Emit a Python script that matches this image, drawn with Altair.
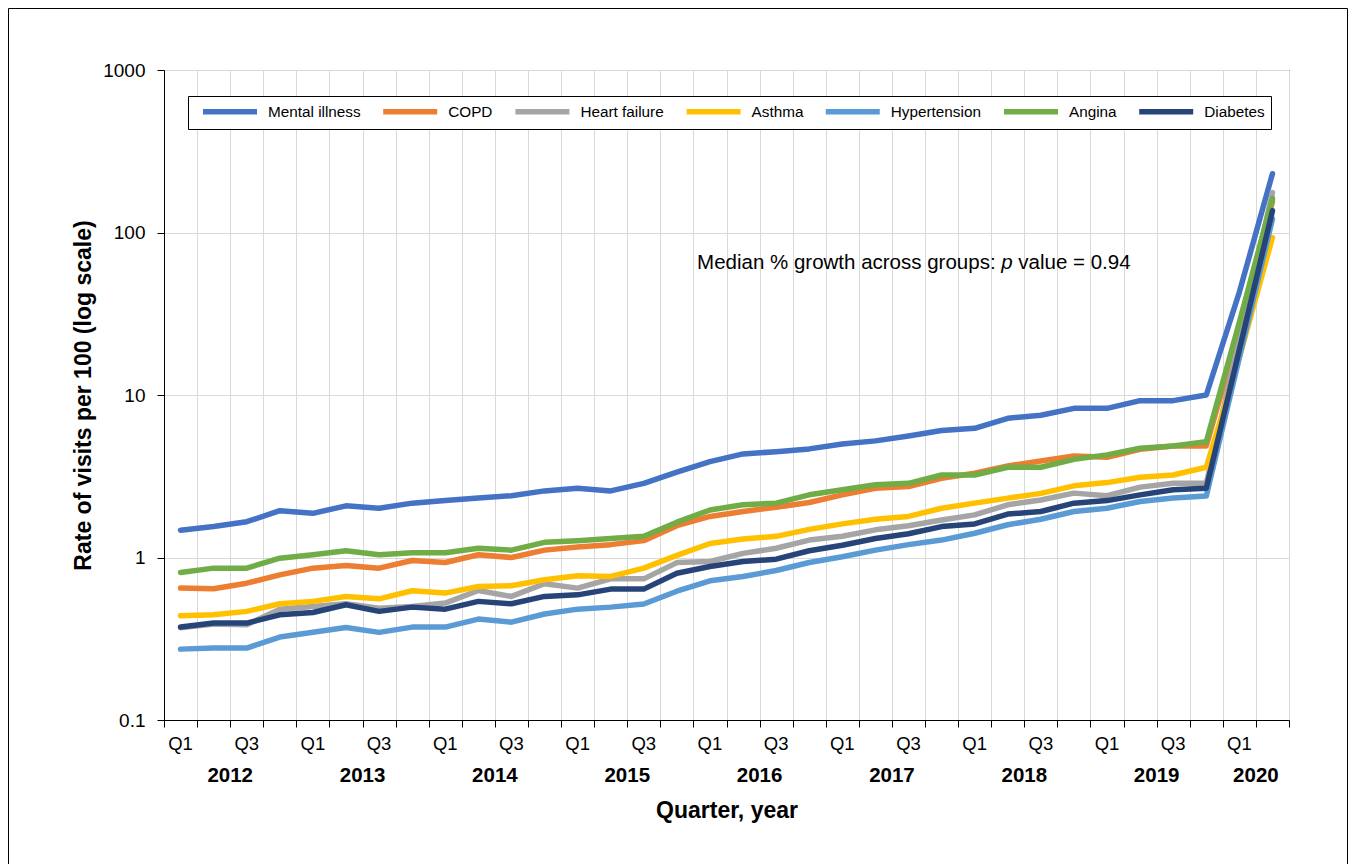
import altair as alt
import pandas as pd

# ---------------- data ----------------
series_names = ["Mental illness", "COPD", "Heart failure", "Asthma",
                "Hypertension", "Angina", "Diabetes"]
series_colors = ["#4472C4", "#ED7D31", "#A5A5A5", "#FFC000",
                 "#5B9BD5", "#70AD47", "#264478"]

quarter_labels = ["Q1", "Q2", "Q3", "Q4"] * 8 + ["Q1", "Q2"]
year_labels = ["2012", "2013", "2014", "2015", "2016", "2017", "2018", "2019", "2020"]
year_first_index = [0, 4, 8, 12, 16, 20, 24, 28, 32]
year_n_quarters = [4, 4, 4, 4, 4, 4, 4, 4, 2]

mental_illness = [1.47, 1.55, 1.66, 1.94, 1.87, 2.08, 2.01, 2.16, 2.24, 2.32, 2.40, 2.57,
                  2.67, 2.57, 2.86, 3.35, 3.89, 4.34, 4.48, 4.66, 5.00, 5.22, 5.60, 6.04,
                  6.24, 7.19, 7.50, 8.28, 8.28, 9.23, 9.23, 10.0, 43, 230]
copd = [0.648, 0.642, 0.695, 0.782, 0.860, 0.893, 0.860, 0.958, 0.932, 1.04, 1.00, 1.11,
        1.16, 1.20, 1.27, 1.57, 1.79, 1.92, 2.04, 2.18, 2.43, 2.67, 2.73, 3.07,
        3.30, 3.66, 3.93, 4.22, 4.14, 4.63, 4.86, 4.86, 25, 155]
heart_failure = [0.37, 0.39, 0.385, 0.481, 0.50, 0.52, 0.488, 0.50, 0.524, 0.627, 0.576, 0.689,
                 0.648, 0.739, 0.739, 0.93, 0.945, 1.06, 1.14, 1.28, 1.35, 1.48, 1.57, 1.70,
                 1.83, 2.11, 2.26, 2.49, 2.40, 2.71, 2.86, 2.86, 22, 176]
asthma = [0.438, 0.444, 0.466, 0.519, 0.537, 0.576, 0.557, 0.624, 0.604, 0.663, 0.670, 0.729,
          0.771, 0.765, 0.860, 1.03, 1.22, 1.30, 1.35, 1.49, 1.61, 1.72, 1.79, 2.01,
          2.16, 2.32, 2.48, 2.76, 2.89, 3.12, 3.22, 3.59, 17, 93]
hypertension = [0.273, 0.277, 0.277, 0.324, 0.347, 0.371, 0.346, 0.373, 0.373, 0.418, 0.400, 0.449,
                0.481, 0.495, 0.517, 0.62, 0.719, 0.764, 0.832, 0.932, 1.01, 1.11, 1.20, 1.28,
                1.41, 1.59, 1.72, 1.92, 2.01, 2.21, 2.32, 2.39, 17, 121]
angina = [0.809, 0.860, 0.860, 0.99, 1.04, 1.10, 1.04, 1.07, 1.07, 1.14, 1.11, 1.24,
          1.27, 1.31, 1.35, 1.65, 1.96, 2.11, 2.16, 2.43, 2.61, 2.80, 2.86, 3.22,
          3.22, 3.59, 3.59, 4.02, 4.28, 4.70, 4.86, 5.16, 28, 162]
diabetes = [0.373, 0.395, 0.395, 0.444, 0.459, 0.512, 0.466, 0.495, 0.481, 0.537, 0.519, 0.576,
            0.589, 0.639, 0.639, 0.80, 0.88, 0.945, 0.977, 1.10, 1.19, 1.31, 1.40, 1.55,
            1.61, 1.85, 1.92, 2.16, 2.24, 2.43, 2.61, 2.67, 19, 136]

series_values = [mental_illness, copd, heart_failure, asthma, hypertension, angina, diabetes]

annotation_parts = ["Median % growth across groups:", "p", "value = 0.94"]
annotation_idx = 15.61
annotation_value = 65

# ---------------- tables ----------------
rows = []
for name, vals in zip(series_names, series_values):
    for i, v in enumerate(vals):
        rows.append({"idx": i, "value": v, "series": name})
df = pd.DataFrame(rows)

qdf = pd.DataFrame({"idx": list(range(len(quarter_labels))), "label": quarter_labels})
qdf = qdf[qdf["idx"] % 2 == 0]

ydf = pd.DataFrame({
    "idx": [f + (n - 1) / 2 for f, n in zip(year_first_index, year_n_quarters)],
    "label": year_labels,
})

adf = pd.DataFrame({"idx": [annotation_idx], "value": [annotation_value]})

W, H = 1125, 650
FONT = "Liberation Sans"
n_cat = len(quarter_labels)

x_enc = alt.X(
    "idx:Q",
    scale=alt.Scale(domain=[-0.5, n_cat - 0.5], nice=False, zero=False),
    axis=alt.Axis(
        values=[i - 0.5 for i in range(n_cat + 1)],
        labels=False, ticks=True, tickSize=7, grid=True,
        title="Quarter, year", titleFontSize=23, titleFontWeight="bold",
        titlePadding=72,
    ),
)
y_enc = alt.Y(
    "value:Q",
    scale=alt.Scale(type="log", domain=[0.1, 1000], nice=False),
    axis=alt.Axis(
        values=[0.1, 1, 10, 100, 1000], format="~g",
        labelFontSize=19, labelPadding=12, tickSize=7, grid=True,
        title="Rate of visits per 100 (log scale)", titleFontSize=23,
        titleFontWeight="bold", titlePadding=7,
    ),
)

# legend symbol: a 54px-long line whose layout box is only 13.5px
SYM = 13.5
lines = alt.Chart(df).mark_line(strokeWidth=5.5, strokeCap="round", strokeJoin="round").encode(
    x=x_enc,
    y=y_enc,
    color=alt.Color(
        "series:N",
        scale=alt.Scale(domain=series_names, range=series_colors),
        sort=series_names,
        legend=alt.Legend(
            title=None, orient="none", legendX=24, legendY=26,
            direction="horizontal", symbolType="M-4,0H4", symbolSize=SYM * SYM,
            symbolStrokeWidth=5.5, symbolOffset=26.5,
            labelFontSize=15.3, labelFont=FONT,
            labelColor="black", labelOffset=28.5, columnPadding=11.2,
            strokeColor="black", fillColor="white", padding=6,
        ),
    ),
)

qlabels = alt.Chart(qdf).mark_text(fontSize=18.5, font=FONT, baseline="middle",
                                   align="center", color="black").encode(
    x=x_enc, y=alt.value(H + 24), text="label:N"
)
ylabels = alt.Chart(ydf).mark_text(fontSize=20.5, font=FONT, fontWeight="bold",
                                   baseline="middle", align="center", color="black").encode(
    x=x_enc, y=alt.value(H + 56), text="label:N"
)

fs = 20.5
a1 = alt.Chart(adf).mark_text(text=annotation_parts[0], fontSize=fs, font=FONT,
                              align="left", baseline="middle", color="black").encode(x=x_enc, y=y_enc)
a2 = alt.Chart(adf).mark_text(text=annotation_parts[1], fontSize=fs, font=FONT, fontStyle="italic",
                              align="left", baseline="middle", color="black",
                              dx=14.839 * fs).encode(x=x_enc, y=y_enc)
a3 = alt.Chart(adf).mark_text(text=annotation_parts[2], fontSize=fs, font=FONT,
                              align="left", baseline="middle", color="black",
                              dx=(14.839 + 0.556 + 0.278) * fs).encode(x=x_enc, y=y_enc)

frame = alt.Chart(pd.DataFrame({"a": [0]})).mark_rect(
    fill=None, stroke="black", strokeWidth=1
).encode(
    x=alt.value(-155.5), x2=alt.value(W + 58.5),
    y=alt.value(-61.5), y2=alt.value(H + 200),
)

chart = alt.layer(frame, lines, qlabels, ylabels, a1, a2, a3).properties(
    width=W, height=H,
    autosize=alt.AutoSizeParams(type="none"),
    padding={"left": 156, "top": 62, "right": 59, "bottom": 150},
    background="white",
).configure_view(
    stroke="black", strokeWidth=1
).configure_axis(
    labelFont=FONT, titleFont=FONT, labelColor="black", titleColor="black",
    gridColor="#d9d9d9", gridWidth=1, domainColor="black", tickColor="black",
    domainWidth=1, tickWidth=1,
)

chart.save("out.html", embed_options={"renderer": "svg", "actions": False})
